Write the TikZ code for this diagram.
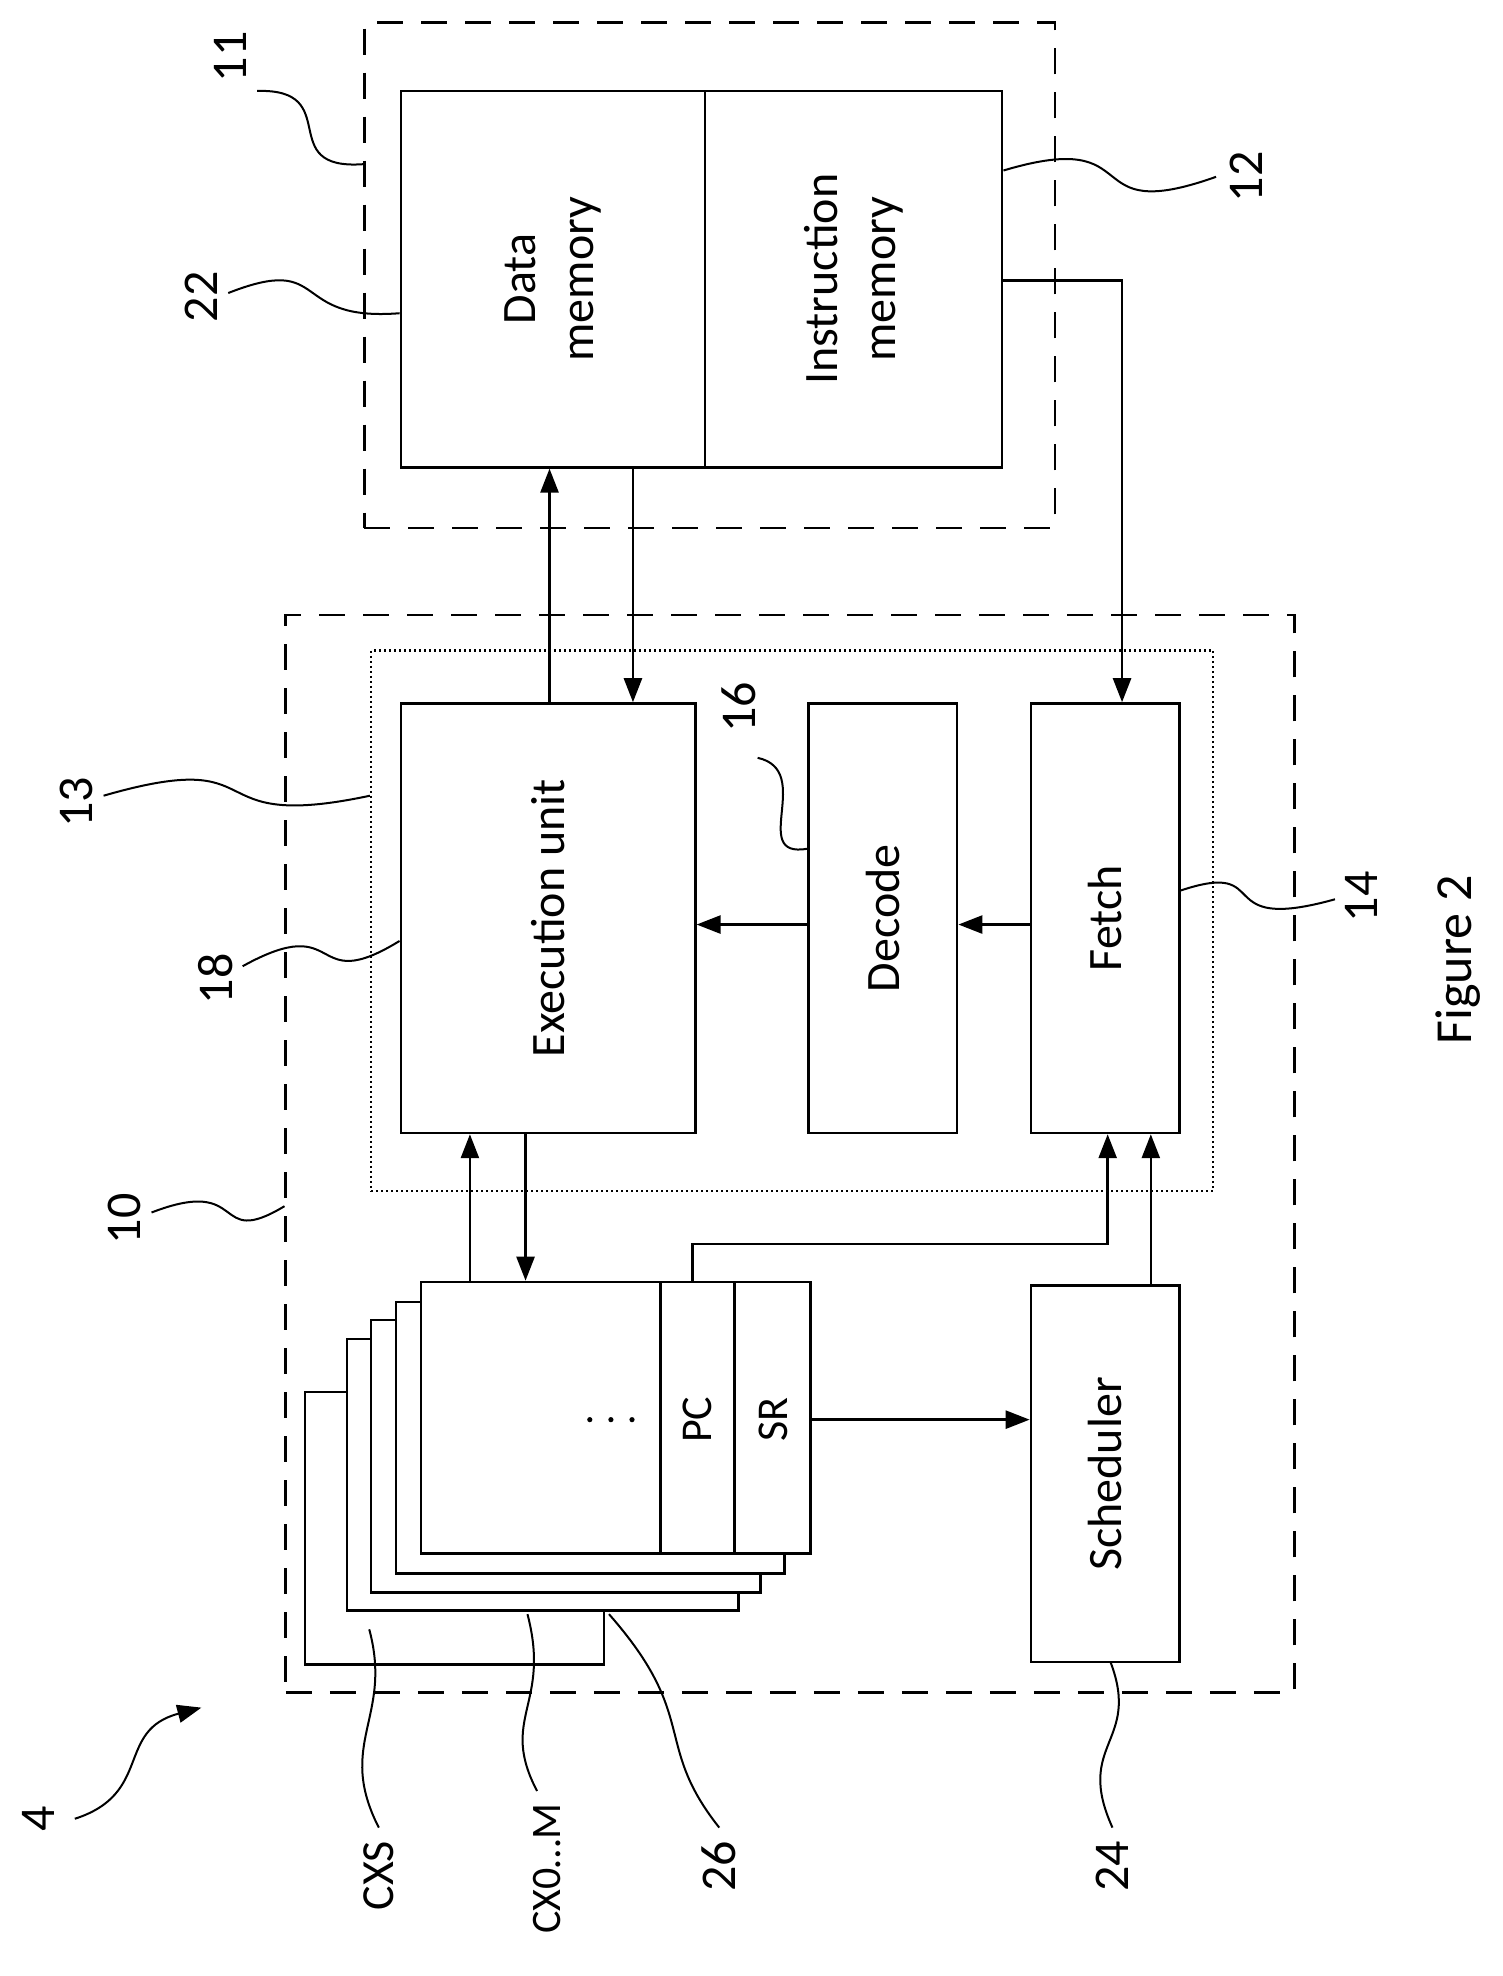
\documentclass[tikz,border=0pt]{standalone}
\usepackage{fontspec}
\setmainfont{Carlito}
\usetikzlibrary{fit,calc,arrows.meta}
\begin{document}
\begin{tikzpicture}[x={(0.959pt,0)},y={(0,-1.263pt)},
  lw/.style={line width=2.6pt},
  bx/.style={draw,lw,inner sep=0pt,fill=white},
  dsh/.style={draw,line width=2.6pt,dash pattern=on 26pt off 18pt},
  dot/.style={draw,line width=2.4pt,dash pattern=on 2pt off 3pt},
  arr/.style={lw,-{Triangle[length=24pt,width=18pt]}},
  txt/.style={rotate=90,font=\fontsize{48}{58}\selectfont,align=center},
  lab/.style={rotate=90,font=\fontsize{50}{60}\selectfont},
  lead/.style={line width=2pt}]
\useasboundingbox (0,0) rectangle (1567,1564.5);
% memory
\node[dsh,fit={(380,18)(1100,418)},inner sep=0] (m11) {};
\node[bx,fit={(418,72)(735,370)}] (dm) {};
\node[bx,fit={(735,72)(1045,370)}] (im) {};
\node[txt] (dmt) at (dm.center) {Data\\memory};
\node[txt] (imt) at (im.center) {Instruction\\memory};
% processor
\node[dsh,fit={(298,487)(1350,1340)},inner sep=0] (p10) {};
\node[dot,fit={(387,515)(1265,943)},inner sep=0] (p13) {};
\node[bx,fit={(418,557)(725,897)}] (ex) {};
\node[bx,fit={(843,557)(998,897)}] (de) {};
\node[bx,fit={(1075,557)(1230,897)}] (fe) {};
\node[txt] at (ex.center) {Execution unit};
\node[txt] at (de.center) {Decode};
\node[txt] at (fe.center) {Fetch};
% contexts
\node[bx,fit={(318,1102)(630,1318)}] (cxs) {};
\node[bx,fit={(362,1060)(770,1275)}] (s3) {};
\node[bx,fit={(387,1045)(793,1261)}] (s2) {};
\node[bx,fit={(413,1031)(818,1246)}] (s1) {};
\node[bx,fit={(439,1015)(845,1230)}] (rg) {};
\draw[lw] (689,1015) -- (689,1230) (766,1015) -- (766,1230);
\node[txt,font=\fontsize{44}{50}\selectfont] (pc) at (727,1124) {PC};
\node[txt,font=\fontsize{44}{50}\selectfont] (sr) at (806,1124) {SR};
\foreach \xx in {615,637,659} \fill (\xx,1124) circle (2.6pt);
\node[bx,fit={(1075,1018)(1230,1316)}] (sc) {};
\node[txt] at (sc.center) {Scheduler};
% connectors
\draw[arr] (573,0 |- ex.north) -- (573,0 |- dm.south);
\draw[arr] (660,0 |- dm.south) -- (660,0 |- ex.north);
\draw[arr] (im.east |- 0,222) -- (1170,222) -- (1170,0 |- fe.north);
\draw[arr] (de.west |- 0,732) -- (ex.east |- 0,732);
\draw[arr] (fe.west |- 0,732) -- (de.east |- 0,732);
\draw[arr] (490,0 |- rg.north) -- (490,0 |- ex.south);
\draw[arr] (548,0 |- ex.south) -- (548,0 |- rg.north);
\draw[arr] (722,0 |- rg.north) -- (722,985) -- (1155,985) -- (1155,0 |- fe.south);
\draw[arr] (1200,0 |- sc.north) -- (1200,0 |- fe.south);
\draw[arr] (rg.east |- 0,1124) -- (sc.west |- 0,1124);
% labels
\node[lab] (l11) at (240,45) {11};
\draw[lead] (268,72) .. controls (360,70) and (285,135) .. (m11.west |- 0,130);
\node[lab] (l22) at (210,235) {22};
\draw[lead] (238,232) .. controls (345,200) and (300,255) .. (dm.west |- 0,248);
\node[lab] (l12) at (1300,140) {12};
\draw[lead] (1268,140) .. controls (1120,180) and (1200,100) .. (im.east |- 0,135);
\node[lab] (l13) at (80,635) {13};
\draw[lead] (108,630) .. controls (290,590) and (200,660) .. (p13.west |- 0,630);
\node[lab] (l18) at (225,775) {18};
\draw[lead] (253,765) .. controls (360,720) and (320,790) .. (ex.west |- 0,745);
\node[lab] (l16) at (770,560) {16};
\draw[lead] (790,600) .. controls (850,610) and (780,680) .. (de.west |- 0,672);
\node[lab] (l10) at (130,965) {10};
\draw[lead] (158,960) .. controls (260,930) and (220,990) .. (p10.west |- 0,955);
\node[lab] (l14) at (1420,710) {14};
\draw[lead] (1392,712) .. controls (1260,740) and (1330,680) .. (fe.east |- 0,705);
\node[lab] (l4) at (40,1440) {4};
\draw[lead,-{Triangle[length=24pt,width=18pt]}] (78,1440) .. controls (160,1420) and (120,1370) .. (210,1352);
\node[lab,font=\fontsize{46}{56}\selectfont,anchor=east] (lcxs) at (395,1455) {CXS};
\draw[lead] (395,1447) .. controls (350,1380) and (410,1360) .. (385,1290);
\node[lab,font=\fontsize{42}{50}\selectfont,anchor=east] (lcx0) at (570,1425) {CX0…M};
\draw[lead] (560,1418) .. controls (520,1360) and (575,1350) .. (550,1278);
\node[lab,anchor=east] (l26) at (750,1455) {26};
\draw[lead] (750,1447) .. controls (680,1380) and (730,1360) .. (635,1278);
\node[lab,anchor=east] (l24) at (1160,1455) {24};
\draw[lead] (1160,1447) .. controls (1120,1380) and (1190,1380) .. (1158,1316);
\node[lab,font=\fontsize{52}{60}\selectfont] (fig) at (1520,760) {Figure 2};
\end{tikzpicture}
\end{document}
